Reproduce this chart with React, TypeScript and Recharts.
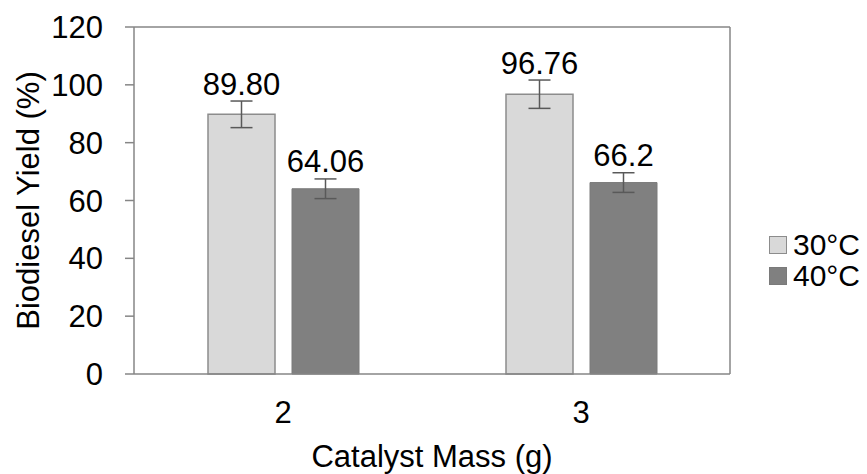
import { Bar, BarChart, CartesianGrid, ErrorBar, LabelList, Legend, XAxis, YAxis } from 'recharts'

const categories = ['2', '3']
const yield30 = [89.8, 96.76]
const yield40 = [64.06, 66.2]
const err30 = [4.6, 4.9]
const err40 = [3.4, 3.4]
const labels30 = ['89.80', '96.76']
const labels40 = ['64.06', '66.2']
const yTicks = [0, 20, 40, 60, 80, 100, 120]

const FONT = '"Liberation Sans", Arial, sans-serif'
const FS = 31
const AXIS = '#868686'

const data = categories.map((name, i) => ({
  name,
  t30: yield30[i],
  t40: yield40[i],
  e30: err30[i],
  e40: err40[i],
}))

// label sits just above the top cap of the error bar
const valueLabel = (texts: string[], errs: number[]) => (props: any) => {
  const { x, y, width, height, value, index } = props
  const errPx = value ? (errs[index] * height) / value : 0
  return (
    <text
      x={x + width / 2}
      y={y - errPx - 6.5}
      textAnchor='middle'
      fontSize={FS}
      fontFamily={FONT}
      fill='#000'
    >
      {texts[index]}
    </text>
  )
}

const legendItems = [
  { label: '30°C', fill: '#d9d9d9', stroke: '#8c8c8c' },
  { label: '40°C', fill: '#808080', stroke: '#7a7a7a' },
]

function LegendBox() {
  return (
    <div style={{ width: 100, paddingLeft: 2, boxSizing: 'border-box' }}>
      {legendItems.map((it) => (
        <div
          key={it.label}
          style={{ display: 'flex', alignItems: 'center', height: 31 }}
        >
          <span
            style={{
              width: 16,
              height: 16,
              background: it.fill,
              border: `1px solid ${it.stroke}`,
              marginRight: 6,
              flex: 'none',
            }}
          />
          <span style={{ fontSize: 30, fontFamily: FONT, color: '#000', lineHeight: '28px', whiteSpace: 'nowrap' }}>
            {it.label}
          </span>
        </div>
      ))}
    </div>
  )
}

export default function App() {
  return (
    <div style={{ position: 'absolute', left: 0, top: 0 }}>
      <BarChart
        width={867}
        height={474}
        data={data}
        margin={{ top: 27, right: 37, bottom: 0, left: 0 }}
        barSize={67}
        barGap={17}
      >
        {/* top and right frame lines of the plot box */}
        <CartesianGrid
          stroke={AXIS}
          strokeWidth={1.5}
          horizontalCoordinatesGenerator={({ offset }: any) => [offset.top]}
          verticalCoordinatesGenerator={({ offset }: any) => [offset.left + offset.width]}
        />
        <XAxis
          dataKey='name'
          height={100}
          tickLine={false}
          tickSize={0}
          tickMargin={27}
          axisLine={{ stroke: AXIS, strokeWidth: 1.5 }}
          tick={{ fontSize: FS, fontFamily: FONT, fill: '#000' }}
          label={{
            value: 'Catalyst Mass (g)',
            position: 'insideBottom',
            offset: 7,
            fontSize: FS,
            fontFamily: FONT,
            fill: '#000',
          }}
        />
        <YAxis
          domain={[0, 120]}
          ticks={yTicks}
          width={134}
          tickSize={9}
          tickMargin={22}
          axisLine={{ stroke: AXIS, strokeWidth: 1.5 }}
          tickLine={{ stroke: AXIS, strokeWidth: 1.5 }}
          tick={{ fontSize: FS, fontFamily: FONT, fill: '#000' }}
          label={{
            content: ({ viewBox }: any) => {
              const cx = viewBox.x + 28
              const cy = viewBox.y + viewBox.height / 2
              return (
                <text
                  x={cx}
                  y={cy}
                  transform={`rotate(-90, ${cx}, ${cy})`}
                  textAnchor='middle'
                  dominantBaseline='central'
                  fontSize={FS}
                  fontFamily={FONT}
                  fill='#000'
                >
                  Biodiesel Yield (%)
                </text>
              )
            },
          }}
        />
        <Legend
          layout='vertical'
          align='right'
          verticalAlign='middle'
          width={100}
          wrapperStyle={{ right: 0, top: 229.5 }}
          content={() => <LegendBox />}
        />
        <Bar
          dataKey='t30'
          name='30°C'
          fill='#d9d9d9'
          stroke='#8c8c8c'
          strokeWidth={1.5}
          isAnimationActive={false}
        >
          <ErrorBar dataKey='e30' width={11} stroke='#595959' strokeWidth={1.5} />
          <LabelList dataKey='t30' content={valueLabel(labels30, err30)} />
        </Bar>
        <Bar
          dataKey='t40'
          name='40°C'
          fill='#808080'
          stroke='#7a7a7a'
          strokeWidth={1}
          isAnimationActive={false}
        >
          <ErrorBar dataKey='e40' width={11} stroke='#595959' strokeWidth={1.5} />
          <LabelList dataKey='t40' content={valueLabel(labels40, err40)} />
        </Bar>
      </BarChart>
    </div>
  )
}
